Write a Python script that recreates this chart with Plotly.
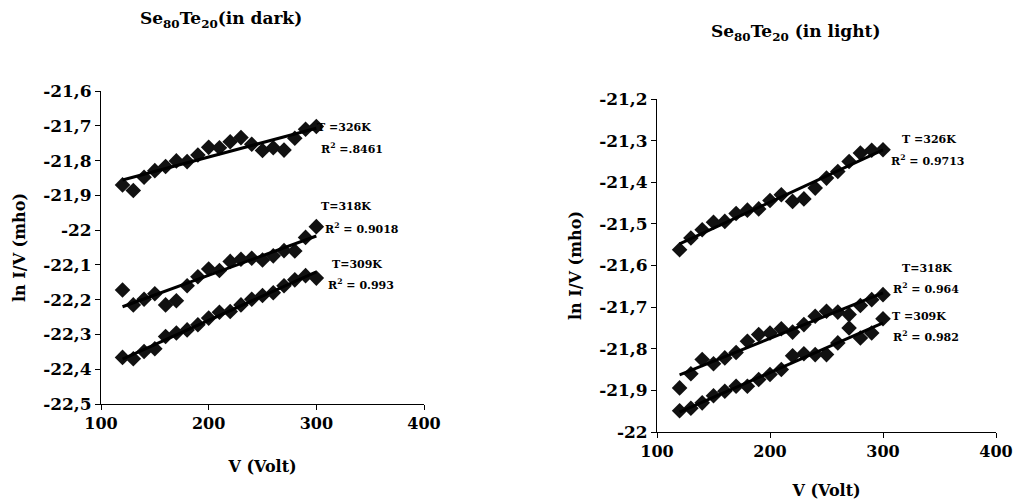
import numpy as np
import plotly.graph_objects as go

V = [120, 130, 140, 150, 160, 170, 180, 190, 200, 210, 220, 230, 240, 250, 260, 270, 280, 290, 300]

dark_326 = [-21.870, -21.886, -21.848, -21.829, -21.817, -21.801, -21.803, -21.784, -21.762, -21.763,
            -21.746, -21.734, -21.753, -21.771, -21.763, -21.770, -21.736, -21.710, -21.702]
dark_318 = [-22.172, -22.215, -22.199, -22.183, -22.215, -22.203, -22.160, -22.134, -22.112, -22.116,
            -22.090, -22.084, -22.081, -22.086, -22.074, -22.059, -22.060, -22.021, -21.990]
dark_309 = [-22.366, -22.370, -22.349, -22.341, -22.306, -22.296, -22.287, -22.272, -22.253, -22.236,
            -22.234, -22.215, -22.199, -22.188, -22.180, -22.160, -22.143, -22.131, -22.138]

light_326 = [-21.562, -21.534, -21.514, -21.496, -21.494, -21.475, -21.467, -21.464, -21.444, -21.430,
             -21.446, -21.440, -21.414, -21.390, -21.374, -21.350, -21.330, -21.323, -21.322]
light_318 = [-21.894, -21.860, -21.826, -21.836, -21.822, -21.809, -21.782, -21.766, -21.762, -21.752,
             -21.760, -21.742, -21.722, -21.710, -21.712, -21.718, -21.696, -21.682, -21.670]
light_309 = [-21.949, -21.943, -21.930, -21.913, -21.902, -21.890, -21.890, -21.874, -21.862, -21.850,
             -21.817, -21.812, -21.814, -21.814, -21.786, -21.750, -21.774, -21.762, -21.728]

x_ticks = [100, 200, 300, 400]
dark_yticks = [-21.6, -21.7, -21.8, -21.9, -22.0, -22.1, -22.2, -22.3, -22.4, -22.5]
dark_yticktext = ["-21,6", "-21,7", "-21,8", "-21,9", "-22", "-22,1", "-22,2", "-22,3", "-22,4", "-22,5"]
light_yticks = [-21.2, -21.3, -21.4, -21.5, -21.6, -21.7, -21.8, -21.9, -22.0]
light_yticktext = ["-21,2", "-21,3", "-21,4", "-21,5", "-21,6", "-21,7", "-21,8", "-21,9", "-22"]

dark_label_text = ["T =326K", "R<sup>2</sup> =.8461", "T=318K", "R<sup>2</sup> = 0.9018",
                   "T=309K", "R<sup>2</sup> = 0.993"]
dark_label_x = [325.6, 333.0, 327.5, 342.0, 337.7, 341.4]
dark_label_y = [-21.706, -21.764, -21.933, -21.994, -22.100, -22.157]
light_label_text = ["T =326K", "R<sup>2</sup> = 0.9713", "T=318K", "R<sup>2</sup> = 0.964",
                    "T =309K", "R<sup>2</sup> = 0.982"]
light_label_x = [340.7, 339.8, 339.0, 338.0, 331.9, 338.0]
light_label_y = [-21.298, -21.348, -21.606, -21.656, -21.723, -21.771]

title_dark = "Se<sub>80</sub>Te<sub>20</sub>(in dark)"
title_light = "Se<sub>80</sub>Te<sub>20</sub> (in light)"
x_title = "V (Volt)"
y_title = "ln I/V (mho)"

FONT = "DejaVu Serif"
W, H = 1014, 504

def fx(px):
    return px / W

def fy(py):
    return 1 - py / H

fig = go.Figure()

def add_series(xs, ys, xa, ya):
    fig.add_trace(go.Scatter(x=xs, y=ys, mode="markers", xaxis=xa, yaxis=ya,
                             marker=dict(symbol="diamond", size=12, color="#111111"),
                             showlegend=False, hoverinfo="skip"))
    a, b = np.polyfit(xs, ys, 1)
    xl = [xs[0], xs[-1]]
    fig.add_trace(go.Scatter(x=xl, y=[a * v + b for v in xl], mode="lines", xaxis=xa, yaxis=ya,
                             line=dict(color="black", width=3), showlegend=False, hoverinfo="skip"))

for ys in (dark_326, dark_318, dark_309):
    add_series(V, ys, "x", "y")
for ys in (light_326, light_318, light_309):
    add_series(V, ys, "x2", "y2")

for texts, xs, ys, xr, yr in ((dark_label_text, dark_label_x, dark_label_y, "x", "y"),
                              (light_label_text, light_label_x, light_label_y, "x2", "y2")):
    for t, x, y in zip(texts, xs, ys):
        fig.add_annotation(text=t, x=x, y=y, xref=xr, yref=yr, showarrow=False,
                           xanchor="center", yanchor="middle",
                           font=dict(family=FONT, size=11, color="black", weight="bold"))

# panel titles
for t, px, py in ((title_dark, 221, 20), (title_light, 796, 32)):
    fig.add_annotation(text=t, x=fx(px), y=fy(py), xref="paper", yref="paper", showarrow=False,
                       xanchor="center", yanchor="middle",
                       font=dict(family=FONT, size=17, color="black", weight="bold"))

axis_common = dict(showgrid=False, zeroline=False, showline=True, linecolor="black", linewidth=1,
                   ticks="outside", ticklen=5, tickcolor="black", automargin=False,
                   ticklabeloverflow="allow")
xtick_font = dict(family=FONT, size=16, color="black", weight="bold")
ytick_font = dict(family=FONT, size=17, color="black", weight="bold")

def atitle(text, standoff):
    return dict(text=text, font=dict(family=FONT, size=16, color="black", weight="bold"), standoff=standoff)

fig.update_layout(
    width=W, height=H, margin=dict(l=0, r=0, t=0, b=0, pad=0, autoexpand=False),
    paper_bgcolor="white", plot_bgcolor="white",
    xaxis=dict(domain=[fx(101), fx(424)], range=[100, 400], tickvals=x_ticks, anchor="y",
               tickfont=xtick_font, title=atitle(x_title, 28), **axis_common),
    yaxis=dict(domain=[fy(404), fy(91)], range=[-22.5, -21.6], tickvals=dark_yticks,
               ticktext=dark_yticktext, anchor="x", tickfont=ytick_font,
               title=atitle(y_title, 13), **axis_common),
    xaxis2=dict(domain=[fx(657), fx(996)], range=[100, 400], tickvals=x_ticks, anchor="y2",
                tickfont=xtick_font, title=atitle(x_title, 24), **axis_common),
    yaxis2=dict(domain=[fy(432), fy(99)], range=[-22.0, -21.2], tickvals=light_yticks,
                ticktext=light_yticktext, anchor="x2", tickfont=ytick_font,
                title=atitle(y_title, 13), **axis_common),
)

fig.write_html("out.html", config={"displayModeBar": False},
               post_script="document.body.style.margin='0';document.body.style.overflow='hidden';")
